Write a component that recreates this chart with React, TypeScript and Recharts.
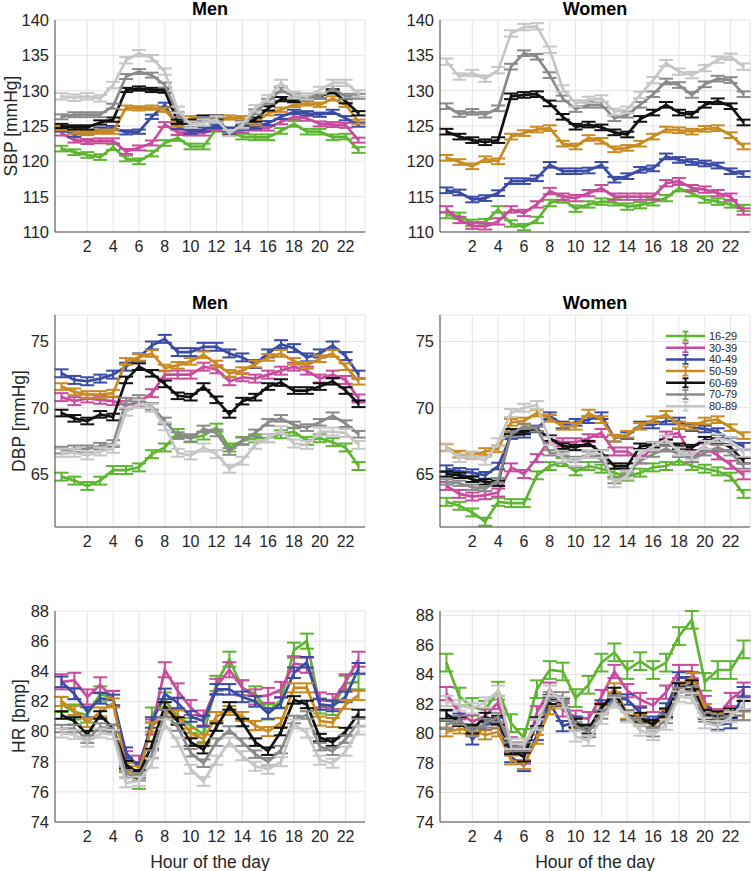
import React from 'react';
import { LineChart, Line, XAxis, YAxis, CartesianGrid, ErrorBar } from 'recharts';

const hours = [0, 1, 2, 3, 4, 5, 6, 7, 8, 9, 10, 11, 12, 13, 14, 15, 16, 17, 18, 19, 20, 21, 22, 23];
const hourTicks = [2, 4, 6, 8, 10, 12, 14, 16, 18, 20, 22];
const ageGroups = ['16-29', '30-39', '40-49', '50-59', '60-69', '70-79', '80-89'];
const groupColors = ['#5DB531', '#C94B9D', '#3A4BA5', '#C98A1F', '#111111', '#8A8A8A', '#C6C6C6'];

// one list per age group, hours 0..23
const sbpMen = [
  [121.8, 121.3, 120.9, 120.6, 122.0, 120.4, 120.0, 121.1, 122.6, 123.3, 122.1, 122.1, 124.6, 124.2, 123.5, 123.4, 123.4, 124.3, 125.3, 124.2, 124.2, 123.4, 123.5, 121.6],
  [124.0, 123.0, 122.8, 122.9, 122.9, 121.4, 121.9, 122.6, 125.2, 124.1, 124.0, 124.0, 124.7, 124.2, 124.4, 124.7, 124.7, 125.6, 126.3, 126.1, 125.3, 125.2, 125.1, 123.0],
  [124.5, 123.8, 124.1, 124.5, 124.7, 124.1, 124.2, 126.3, 128.0, 124.9, 124.2, 124.5, 125.0, 124.5, 124.7, 124.9, 125.4, 126.3, 127.0, 126.8, 126.6, 127.0, 126.1, 125.2],
  [124.7, 124.2, 124.0, 124.2, 124.2, 127.6, 127.5, 127.6, 127.3, 125.2, 126.1, 126.1, 125.9, 126.2, 126.1, 125.4, 126.8, 127.3, 128.0, 128.2, 128.0, 128.9, 128.0, 125.6],
  [125.0, 124.8, 124.8, 125.5, 125.9, 130.1, 130.3, 130.1, 130.0, 125.6, 125.6, 126.2, 126.2, 124.0, 125.4, 125.9, 127.5, 128.8, 128.7, 128.9, 129.2, 129.9, 128.5, 126.8],
  [126.3, 126.6, 126.6, 126.6, 127.8, 132.0, 132.7, 132.2, 130.8, 126.6, 125.2, 125.9, 126.1, 124.0, 124.9, 127.0, 128.5, 130.1, 129.2, 128.9, 129.2, 130.3, 129.2, 129.2],
  [129.2, 129.0, 129.2, 128.9, 130.8, 134.3, 135.3, 134.6, 132.7, 127.3, 125.2, 125.5, 125.9, 124.0, 125.2, 127.5, 128.9, 131.1, 129.4, 129.2, 130.1, 131.1, 131.1, 129.6],
];
const sbpWomen = [
  [112.4, 112.3, 111.3, 111.4, 113.2, 111.2, 110.7, 111.7, 114.1, 114.6, 113.3, 113.9, 114.3, 114.2, 113.6, 113.8, 114.2, 114.8, 116.2, 115.5, 114.6, 114.3, 113.9, 113.4],
  [113.2, 111.7, 110.9, 110.8, 111.5, 113.2, 112.7, 113.9, 115.8, 115.0, 114.8, 115.5, 116.2, 115.0, 115.0, 115.0, 115.0, 116.9, 117.2, 116.2, 116.0, 115.5, 115.0, 112.9],
  [115.9, 115.6, 114.6, 114.8, 115.5, 117.2, 117.2, 117.6, 119.5, 118.6, 118.6, 118.7, 119.5, 117.4, 117.9, 118.8, 119.0, 120.7, 120.2, 119.9, 119.7, 119.4, 118.6, 118.2],
  [120.5, 119.9, 119.3, 120.3, 120.0, 123.5, 124.0, 124.5, 124.7, 122.5, 122.1, 123.3, 122.9, 121.7, 121.9, 122.5, 123.5, 124.5, 124.4, 124.2, 124.6, 124.7, 123.7, 122.1],
  [124.2, 123.5, 123.0, 122.7, 123.0, 129.2, 129.4, 129.5, 128.2, 126.3, 124.9, 125.2, 124.8, 124.1, 123.8, 126.0, 126.9, 128.0, 126.9, 126.6, 128.0, 128.5, 127.8, 125.5],
  [127.8, 126.7, 127.0, 126.6, 127.5, 133.4, 135.3, 134.8, 132.2, 128.9, 127.4, 128.0, 128.0, 126.1, 126.6, 128.0, 129.5, 131.3, 130.8, 129.4, 130.9, 131.7, 131.5, 129.5],
  [134.1, 132.0, 132.5, 131.7, 132.9, 138.1, 139.0, 139.1, 135.8, 130.3, 128.2, 128.7, 128.9, 127.0, 127.3, 129.4, 131.5, 133.9, 132.7, 132.2, 133.2, 134.4, 134.8, 133.4],
];
const dbpMen = [
  [64.8, 64.5, 64.1, 64.5, 65.3, 65.3, 65.5, 66.5, 67.0, 68.1, 67.7, 67.9, 68.5, 67.0, 67.5, 67.7, 67.7, 68.0, 68.2, 67.5, 67.7, 67.4, 67.0, 65.6],
  [70.8, 70.5, 70.7, 70.6, 70.5, 70.2, 70.4, 71.1, 72.5, 72.5, 72.5, 73.1, 72.9, 72.0, 72.3, 72.2, 72.5, 72.8, 73.1, 72.8, 72.2, 72.5, 72.1, 70.7],
  [72.6, 72.1, 72.0, 72.2, 72.5, 73.1, 73.8, 74.7, 75.2, 74.2, 74.2, 74.6, 74.6, 74.1, 73.8, 73.3, 74.1, 74.8, 74.5, 73.8, 74.1, 74.7, 73.9, 72.5],
  [71.6, 71.2, 71.0, 71.0, 71.1, 73.5, 73.8, 74.1, 73.0, 73.2, 73.5, 74.0, 73.3, 72.6, 72.8, 73.3, 73.8, 74.1, 73.5, 73.2, 73.7, 74.1, 73.1, 72.0],
  [69.6, 69.2, 69.0, 69.5, 69.3, 72.1, 73.1, 72.6, 71.8, 70.9, 70.8, 71.6, 70.6, 69.5, 70.5, 70.8, 71.6, 71.9, 71.3, 71.3, 71.6, 72.0, 71.3, 70.3],
  [66.8, 66.9, 66.9, 67.1, 67.3, 70.5, 70.7, 70.1, 69.0, 67.9, 67.7, 68.4, 68.1, 66.7, 67.5, 68.1, 68.9, 69.2, 68.7, 68.5, 68.9, 69.4, 68.8, 68.0],
  [66.6, 66.6, 66.4, 66.7, 66.9, 69.7, 70.3, 70.0, 68.6, 66.6, 66.4, 67.0, 66.5, 65.4, 66.0, 67.2, 67.7, 68.3, 67.3, 67.2, 68.2, 68.2, 68.1, 67.2],
];
const dbpWomen = [
  [62.9, 62.6, 62.1, 61.4, 62.9, 62.8, 62.8, 64.9, 65.6, 65.9, 65.2, 65.6, 65.4, 65.1, 64.8, 65.1, 65.5, 65.6, 66.0, 65.6, 65.4, 65.2, 64.8, 63.5],
  [64.1, 63.5, 63.3, 63.4, 63.6, 65.5, 65.0, 66.2, 67.6, 67.4, 67.4, 67.7, 68.1, 66.7, 66.7, 66.1, 67.0, 67.9, 68.1, 66.2, 67.0, 66.4, 65.7, 64.9],
  [65.4, 65.2, 65.1, 64.9, 65.6, 67.9, 68.0, 68.4, 69.4, 68.7, 68.9, 69.1, 69.4, 67.7, 67.9, 68.7, 68.7, 69.0, 69.0, 68.5, 68.4, 68.2, 67.5, 67.1],
  [67.0, 66.5, 66.4, 66.7, 66.9, 68.9, 69.0, 69.6, 69.2, 68.6, 68.6, 69.6, 69.1, 67.7, 68.0, 68.6, 69.1, 69.5, 68.7, 68.6, 69.0, 69.1, 68.5, 67.9],
  [65.0, 64.9, 64.6, 64.4, 64.3, 68.2, 68.2, 68.4, 67.7, 67.1, 67.0, 67.3, 66.6, 65.6, 65.6, 67.1, 67.2, 67.4, 67.1, 67.0, 67.6, 67.5, 67.0, 66.0],
  [64.4, 64.3, 64.0, 63.9, 64.5, 68.0, 68.6, 68.4, 66.6, 66.5, 66.1, 66.5, 66.1, 64.5, 65.1, 66.0, 66.5, 66.9, 66.5, 66.1, 66.6, 67.0, 66.6, 65.6],
  [67.0, 66.2, 66.4, 66.0, 67.4, 69.6, 70.0, 70.2, 67.5, 66.2, 65.9, 66.5, 66.5, 64.3, 64.9, 66.5, 67.1, 67.6, 66.7, 66.4, 67.2, 67.7, 67.5, 66.6],
];
const hrMen = [
  [81.8, 81.3, 81.1, 82.5, 82.2, 77.9, 76.7, 81.1, 82.1, 81.0, 80.4, 79.8, 83.2, 84.8, 82.9, 82.5, 81.3, 82.1, 85.4, 86.0, 81.7, 81.6, 83.2, 83.3],
  [83.3, 83.4, 82.3, 83.1, 82.2, 78.2, 77.9, 80.3, 84.1, 82.7, 81.6, 80.9, 83.0, 84.1, 82.9, 82.3, 82.4, 82.8, 84.5, 84.4, 82.1, 82.0, 83.3, 84.8],
  [83.3, 82.5, 81.3, 82.2, 82.1, 78.6, 77.6, 80.6, 82.5, 81.9, 81.0, 80.7, 82.8, 82.8, 82.3, 82.0, 81.2, 81.9, 83.9, 84.6, 81.8, 81.7, 82.3, 84.2],
  [82.0, 81.4, 80.6, 81.3, 81.9, 77.6, 77.4, 80.3, 81.3, 81.1, 79.9, 79.5, 81.0, 81.4, 81.0, 80.4, 80.0, 80.6, 82.9, 82.9, 80.7, 80.6, 81.8, 82.4],
  [81.1, 80.7, 79.8, 81.1, 80.2, 77.8, 77.2, 79.1, 81.7, 80.7, 79.3, 78.8, 80.3, 81.7, 80.6, 79.3, 78.7, 80.0, 82.1, 81.8, 79.6, 79.3, 80.0, 81.2],
  [80.2, 80.2, 79.5, 80.3, 80.2, 77.2, 77.0, 78.5, 81.2, 80.3, 78.6, 77.9, 79.3, 80.1, 79.3, 78.5, 78.0, 78.8, 80.8, 81.1, 79.0, 78.7, 79.5, 80.6],
  [79.9, 79.8, 79.3, 79.9, 79.8, 76.6, 76.7, 77.9, 80.5, 79.3, 77.5, 76.7, 78.1, 79.3, 78.4, 77.7, 77.5, 78.0, 80.5, 79.9, 78.1, 77.9, 78.7, 80.1],
];
const hrWomen = [
  [84.8, 82.5, 81.8, 81.6, 82.9, 80.7, 79.7, 83.0, 84.3, 84.2, 82.4, 83.3, 84.8, 85.5, 84.3, 84.9, 84.3, 84.8, 86.6, 87.7, 83.5, 84.3, 84.3, 85.7],
  [82.7, 81.4, 80.8, 81.2, 82.1, 79.3, 78.4, 81.4, 83.0, 81.6, 81.1, 81.0, 82.5, 84.2, 82.9, 82.3, 81.9, 82.8, 84.2, 84.2, 82.1, 81.2, 82.3, 83.0],
  [81.2, 81.0, 79.6, 80.6, 80.7, 78.4, 77.8, 79.9, 82.1, 80.5, 80.8, 80.1, 81.9, 82.4, 82.3, 81.4, 80.8, 81.7, 83.8, 83.8, 81.4, 80.6, 80.7, 82.8],
  [80.1, 80.3, 80.2, 79.9, 80.1, 78.2, 77.9, 79.6, 81.6, 82.0, 80.7, 80.1, 81.6, 83.1, 81.3, 81.0, 80.5, 81.3, 83.2, 83.8, 81.7, 81.1, 81.2, 81.2],
  [81.3, 80.8, 80.3, 81.1, 80.9, 78.9, 78.4, 80.8, 82.3, 82.1, 80.7, 80.3, 81.7, 82.8, 81.2, 81.1, 80.6, 81.4, 83.1, 83.3, 81.3, 81.2, 81.4, 81.9],
  [80.6, 80.9, 80.1, 80.7, 81.1, 79.1, 79.1, 80.7, 82.5, 82.5, 80.5, 80.1, 81.3, 82.3, 81.2, 80.8, 80.1, 81.0, 82.8, 82.9, 81.1, 81.0, 81.2, 81.2],
  [82.2, 81.9, 81.7, 82.1, 82.9, 79.3, 79.3, 80.6, 82.9, 82.1, 79.8, 79.5, 81.0, 82.1, 81.1, 80.2, 79.9, 80.6, 82.5, 82.4, 80.7, 80.5, 81.1, 82.0],
];

// standard error per age group
const sbpMenErr = [0.4, 0.35, 0.3, 0.3, 0.3, 0.35, 0.45];
const sbpWomenErr = [0.45, 0.45, 0.4, 0.4, 0.4, 0.4, 0.45];
const dbpMenErr = [0.3, 0.3, 0.3, 0.25, 0.25, 0.25, 0.3];
const dbpWomenErr = [0.3, 0.3, 0.25, 0.25, 0.2, 0.2, 0.3];
const hrMenErr = [0.5, 0.5, 0.35, 0.3, 0.25, 0.25, 0.3];
const hrWomenErr = [0.6, 0.45, 0.35, 0.3, 0.3, 0.3, 0.35];

const sbpTicks = [110, 115, 120, 125, 130, 135, 140];
const dbpTicks = [65, 70, 75];
const hrTicks = [74, 76, 78, 80, 82, 84, 86, 88];

const FONT = '"Liberation Sans", Arial, Helvetica, sans-serif';
const TXT = '#262626';

function buildRows(series: number[][], errs: number[]) {
  return hours.map((h, i) => {
    const row: any = { h };
    series.forEach((s, k) => {
      row['s' + k] = s[i];
      row['e' + k] = errs[k];
    });
    return row;
  });
}

type PanelProps = {
  plotLeft: number;
  plotRight: number;
  plotTop: number;
  plotBottom: number;
  series: number[][];
  errs: number[];
  yDomain: [number, number];
  yTicks: number[];
};

const Panel = ({ plotLeft, plotRight, plotTop, plotBottom, series, errs, yDomain, yTicks }: PanelProps) => {
  const chartLeft = plotLeft - 50;
  const chartTop = plotTop - 10;
  const width = plotRight + 2 - chartLeft;
  const height = plotBottom + 40 - chartTop;
  return (
    <div style={{ position: 'absolute', left: chartLeft, top: chartTop }}>
      <LineChart width={width} height={height} data={buildRows(series, errs)} margin={{ top: 10, right: 2, bottom: 0, left: 0 }}>
        <CartesianGrid stroke="#E3E3E3" strokeWidth={1} />
        <XAxis
          dataKey="h"
          type="number"
          domain={[-0.5, 23.5]}
          ticks={hourTicks}
          interval={0}
          height={40}
          stroke="#4D4D4D"
          tickLine={false}
          tickSize={0}
          tickMargin={9}
          tick={{ fill: TXT, fontSize: 16 }}
        />
        <YAxis
          type="number"
          domain={yDomain}
          ticks={yTicks}
          interval={0}
          width={50}
          stroke="#4D4D4D"
          tickLine={false}
          tickSize={0}
          tickMargin={6}
          tick={{ fill: TXT, fontSize: 16.5 }}
        />
        {series.map((_, k) => (
          <Line
            key={k}
            type="linear"
            dataKey={'s' + k}
            stroke={groupColors[k]}
            strokeWidth={2.7}
            dot={false}
            activeDot={false}
            isAnimationActive={false}
          >
            <ErrorBar dataKey={'e' + k} direction="y" width={7} strokeWidth={2} stroke={groupColors[k]} isAnimationActive={false} />
          </Line>
        ))}
      </LineChart>
    </div>
  );
};

const Title = ({ x, y, text }: { x: number; y: number; text: string }) => (
  <div style={{ position: 'absolute', left: x - 100, top: y - 11, width: 200, textAlign: 'center', fontWeight: 'bold', fontSize: 18, lineHeight: '22px', color: '#000' }}>
    {text}
  </div>
);

const YLabel = ({ x, y, text }: { x: number; y: number; text: string }) => (
  <div
    style={{
      position: 'absolute',
      left: x - 100,
      top: y - 11,
      width: 200,
      textAlign: 'center',
      fontSize: 17.5,
      lineHeight: '22px',
      color: TXT,
      transform: 'rotate(-90deg)',
    }}
  >
    {text}
  </div>
);

const AgeLegend = () => (
  <svg style={{ position: 'absolute', left: 660, top: 328 }} width={92} height={86}>
    {ageGroups.map((g, i) => {
      const y = 8 + i * 11.7;
      return (
        <g key={g}>
          <line x1={6} x2={45} y1={y} y2={y} stroke={groupColors[i]} strokeWidth={2.5} />
          <line x1={25.5} x2={25.5} y1={y - 4.5} y2={y + 4.5} stroke={groupColors[i]} strokeWidth={1.8} />
          <line x1={22.5} x2={28.5} y1={y - 4.5} y2={y - 4.5} stroke={groupColors[i]} strokeWidth={1.8} />
          <line x1={22.5} x2={28.5} y1={y + 4.5} y2={y + 4.5} stroke={groupColors[i]} strokeWidth={1.8} />
          <text x={49} y={y} dy="0.35em" fontSize={11} fill={TXT}>
            {g}
          </text>
        </g>
      );
    })}
  </svg>
);

const COLS = [
  { l: 55, r: 365 },
  { l: 440, r: 750 },
];
const ROWS = [
  { t: 20, b: 232 },
  { t: 315, b: 527 },
  { t: 611, b: 822 },
];

export default function App() {
  return (
    <div style={{ position: 'absolute', left: 0, top: 0, width: 752, height: 871, background: '#fff', fontFamily: FONT, color: TXT }}>
      <Panel plotLeft={COLS[0].l} plotRight={COLS[0].r} plotTop={ROWS[0].t} plotBottom={ROWS[0].b} series={sbpMen} errs={sbpMenErr} yDomain={[110, 140]} yTicks={sbpTicks} />
      <Panel plotLeft={COLS[1].l} plotRight={COLS[1].r} plotTop={ROWS[0].t} plotBottom={ROWS[0].b} series={sbpWomen} errs={sbpWomenErr} yDomain={[110, 140]} yTicks={sbpTicks} />
      <Panel plotLeft={COLS[0].l} plotRight={COLS[0].r} plotTop={ROWS[1].t} plotBottom={ROWS[1].b} series={dbpMen} errs={dbpMenErr} yDomain={[61, 77]} yTicks={dbpTicks} />
      <Panel plotLeft={COLS[1].l} plotRight={COLS[1].r} plotTop={ROWS[1].t} plotBottom={ROWS[1].b} series={dbpWomen} errs={dbpWomenErr} yDomain={[61, 77]} yTicks={dbpTicks} />
      <Panel plotLeft={COLS[0].l} plotRight={COLS[0].r} plotTop={ROWS[2].t} plotBottom={ROWS[2].b} series={hrMen} errs={hrMenErr} yDomain={[74, 88]} yTicks={hrTicks} />
      <Panel plotLeft={COLS[1].l} plotRight={COLS[1].r} plotTop={ROWS[2].t} plotBottom={ROWS[2].b} series={hrWomen} errs={hrWomenErr} yDomain={[74, 88]} yTicks={hrTicks} />

      <Title x={210} y={9} text="Men" />
      <Title x={595} y={9} text="Women" />
      <Title x={210} y={303} text="Men" />
      <Title x={595} y={303} text="Women" />

      <YLabel x={11} y={126} text="SBP [mmHg]" />
      <YLabel x={19} y={421} text="DBP [mmHg]" />
      <YLabel x={19} y={716} text="HR [bmp]" />

      <div style={{ position: 'absolute', left: 110, top: 851, width: 200, textAlign: 'center', fontSize: 17.5, lineHeight: '22px' }}>Hour of the day</div>
      <div style={{ position: 'absolute', left: 495, top: 851, width: 200, textAlign: 'center', fontSize: 17.5, lineHeight: '22px' }}>Hour of the day</div>

      <AgeLegend />
    </div>
  );
}
